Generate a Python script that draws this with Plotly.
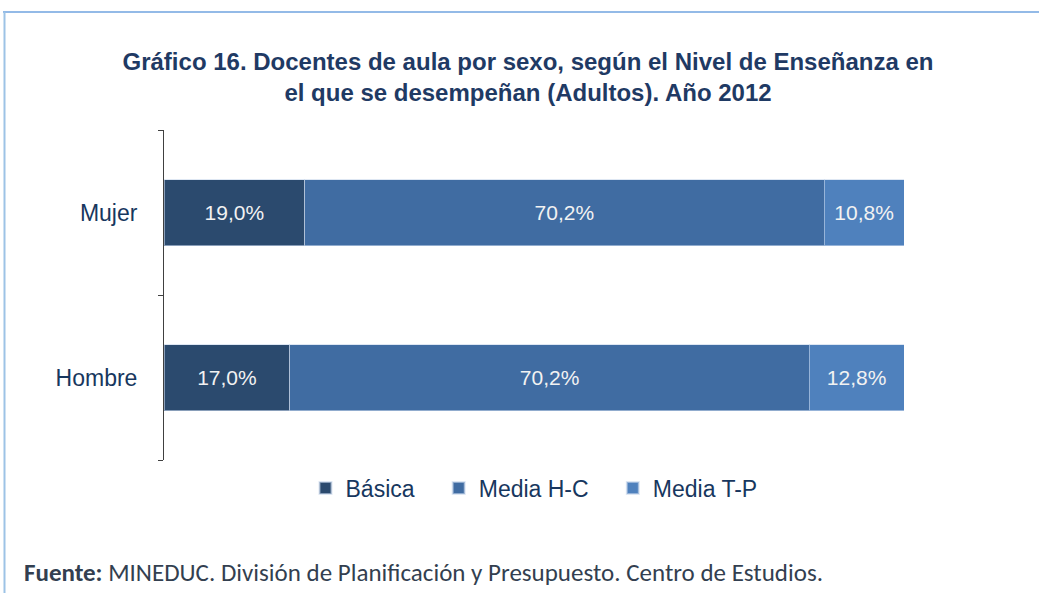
import plotly.graph_objects as go

categories = ["Hombre", "Mujer"]
series_names = ["Básica", "Media H-C", "Media T-P"]
basica = [17.0, 19.0]
media_hc = [70.2, 70.2]
media_tp = [12.8, 10.8]
colors = ["#2B4A6E", "#406CA2", "#4F81BD"]

L, R, T, B = 164, 135, 130, 133
W, H = 1039, 593
pw, ph = W - L - R, H - T - B


def px(x):
    return (x - L) / pw


def py(y):
    return (H - B - y) / ph


pad = "\u00a0" * 3
fig = go.Figure()
for i, (name, vals, col) in enumerate(zip(series_names, [basica, media_hc, media_tp], colors)):
    fig.add_trace(go.Bar(
        y=categories, x=vals, name=name + (pad if i < 2 else ""), orientation="h",
        marker=dict(color=col, line=dict(color="rgba(200,215,235,0.6)", width=1)),
        text=[f"{v:.1f}%".replace(".", ",") for v in vals],
        textposition="inside", insidetextanchor="middle",
        textfont=dict(family="Liberation Sans, Arial", size=21, color="#F2F2F2"),
        width=0.4,
    ))

fig.update_layout(
    width=W, height=H,
    barmode="stack",
    paper_bgcolor="white", plot_bgcolor="white",
    margin=dict(l=L, r=R, t=T, b=B),
    title=dict(
        text="Gráfico 16. Docentes de aula por sexo, según el Nivel de Enseñanza en<br>el que se desempeñan (Adultos). Año 2012",
        x=px(528), xref="paper", xanchor="center",
        y=1 - 70 / H, yanchor="middle",
        font=dict(family="Liberation Sans, Arial", size=24, color="#1F3A64", weight="bold"),
    ),
    xaxis=dict(range=[0, 100], visible=False, fixedrange=True),
    yaxis=dict(
        type="category", categoryorder="array", categoryarray=categories,
        showline=True, linecolor="#404040", linewidth=1,
        ticks="outside", tickson="boundaries", ticklen=5, tickcolor="#404040",
        showgrid=False, ticklabelstandoff=21, fixedrange=True,
        tickfont=dict(family="Liberation Sans, Arial", size=23, color="#17375E"),
    ),
    legend=dict(
        orientation="h", x=px(534), xanchor="center", y=py(488), yanchor="middle",
        font=dict(family="Liberation Sans, Arial", size=23, color="#17375E"),
        traceorder="normal", itemwidth=30, itemsizing="constant",
    ),
    bargap=0.6,
    shapes=[
        dict(type="line", xref="paper", yref="paper", x0=px(3), x1=px(1039), y0=py(12), y1=py(12),
             line=dict(color="#6FA3DF", width=1.5)),
        dict(type="line", xref="paper", yref="paper", x0=px(4.5), x1=px(4.5), y0=py(12), y1=py(593),
             line=dict(color="#9DC3E6", width=2)),
    ],
    annotations=[
        dict(text="<b>Fuente:</b> MINEDUC. División de Planificación y Presupuesto. Centro de Estudios.",
             xref="paper", yref="paper", x=px(22), y=py(572), xanchor="left", yanchor="middle",
             showarrow=False,
             font=dict(family="Carlito, Lato, Open Sans", size=25, color="#333F50")),
    ],
)

fig.write_html("out.html", config={"displayModeBar": False},
               post_script="document.body.style.margin='0px';document.body.style.overflow='hidden';")
